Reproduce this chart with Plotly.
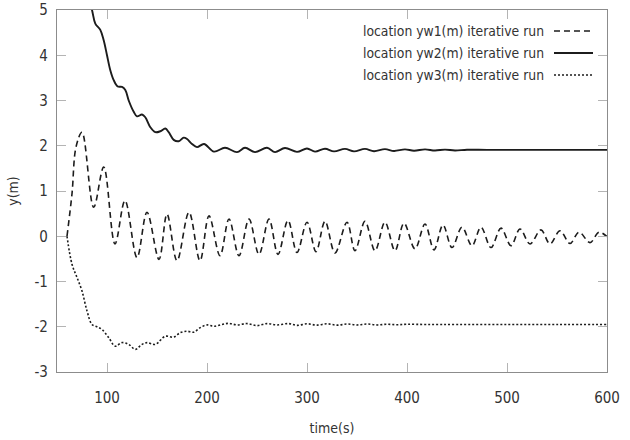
import plotly.graph_objects as go

# Time samples and displacement readings for each location (turning points of the motion)
t_yw1 = [60, 65, 69, 75, 86.7, 96.7, 108, 118, 130, 140, 152, 160, 170, 182, 193, 202,
         213, 222, 232, 242, 252, 262, 271, 281, 290, 300, 309, 318, 328, 340, 348, 358,
         368, 378, 388, 397, 408, 418, 427, 436, 445, 455, 465, 474, 484, 494, 504, 513,
         523, 534, 543, 553, 563, 572, 583, 592, 600]
y_yw1 = [0, 0.94, 1.97, 2.30, 0.64, 1.53, -0.17, 0.79, -0.47, 0.53, -0.51, 0.49, -0.54, 0.53, -0.54, 0.45,
         -0.43, 0.38, -0.43, 0.38, -0.40, 0.38, -0.40, 0.35, -0.36, 0.31, -0.34, 0.33, -0.37, 0.31, -0.32, 0.33,
         -0.32, 0.31, -0.32, 0.29, -0.28, 0.27, -0.30, 0.25, -0.25, 0.20, -0.21, 0.20, -0.25, 0.18, -0.21, 0.16,
         -0.17, 0.14, -0.17, 0.12, -0.16, 0.09, -0.14, 0.09, -0.01]

t_yw2 = [80, 85, 88.3, 93.3, 96.7, 100, 103.3, 106.7, 110.7, 115, 118.3, 121.7, 126.7, 130, 135,
         138.3, 143.3, 148.3, 153.3, 158.3, 161.7, 166.7, 171.7, 176.7, 180, 185, 190, 197, 207,
         218, 230, 238, 248, 260, 268, 278, 290, 300, 308, 318, 327, 338, 347, 358, 367, 378,
         387, 398, 407, 418, 428, 438, 448, 460, 480, 520, 560, 600]
y_yw2 = [5.40, 5.00, 4.70, 4.56, 4.33, 4.00, 3.67, 3.45, 3.31, 3.30, 3.23, 3.00, 2.75, 2.65, 2.69,
         2.63, 2.41, 2.30, 2.32, 2.38, 2.30, 2.13, 2.10, 2.18, 2.15, 2.04, 1.97, 2.04, 1.87,
         1.955, 1.86, 1.955, 1.86, 1.955, 1.86, 1.95, 1.865, 1.94, 1.87, 1.935, 1.875, 1.93, 1.875, 1.93, 1.88, 1.925,
         1.885, 1.92, 1.89, 1.92, 1.895, 1.915, 1.895, 1.912, 1.908, 1.908, 1.908, 1.908]

t_yw3 = [60, 65, 70, 75, 80, 85, 90, 95, 101.7, 108.3, 115, 121.7, 128.3, 135, 140, 148.3,
         158.3, 166.7, 173.3, 180, 186.7, 193.3, 200, 206.7, 215, 221.7, 230, 240, 250, 260,
         270, 281.7, 290, 300, 310, 320, 330, 340, 350, 360, 370, 380, 390, 400, 420, 450,
         500, 550, 600]
y_yw3 = [0, -0.62, -0.91, -1.21, -1.65, -1.95, -2.00, -2.06, -2.24, -2.43, -2.35, -2.39, -2.50, -2.39, -2.35, -2.39,
         -2.21, -2.23, -2.13, -2.10, -2.12, -2.02, -1.96, -1.99, -1.95, -1.925, -1.96, -1.93, -1.975, -1.93,
         -1.96, -1.93, -1.97, -1.935, -1.965, -1.935, -1.965, -1.94, -1.96, -1.94, -1.96, -1.945, -1.955, -1.945, -1.95, -1.95,
         -1.95, -1.95, -1.95]

legend_labels = ["location yw1(m) iterative run",
                 "location yw2(m) iterative run",
                 "location yw3(m) iterative run"]

x_ticks = [100, 200, 300, 400, 500, 600]
y_ticks = [-3, -2, -1, 0, 1, 2, 3, 4, 5]

FONT = "DejaVu Sans Condensed, DejaVu Sans, sans-serif"
TEXT = "#333333"
INK = "#1c1c1c"

series = [
    (t_yw1, y_yw1, dict(color=INK, width=1.6, dash="6px,4px")),
    (t_yw2, y_yw2, dict(color=INK, width=1.9, dash="solid")),
    (t_yw3, y_yw3, dict(color=INK, width=1.6, dash="2px,2px")),
]

fig = go.Figure()
for (tx, ty, ln), name in zip(series, legend_labels):
    fig.add_trace(go.Scatter(x=tx, y=ty, mode="lines", name=name,
                             line=dict(shape="spline", smoothing=1.0, **ln),
                             showlegend=False, cliponaxis=True))

# Legend drawn at top right: right-aligned label followed by its line sample
L, R, T, B = 57, 23, 10, 68
W, H = 630, 440
pw, ph = W - L - R, H - T - B
row_px = [31, 53, 75]
for (tx, ty, ln), name, py in zip(series, legend_labels, row_px):
    yp = (H - B - py) / ph
    fig.add_annotation(x=(546 - L) / pw, y=yp, xref="paper", yref="paper",
                       text=name, showarrow=False, xanchor="right", yanchor="middle",
                       font=dict(family=FONT, size=13.8, color=TEXT))
    fig.add_shape(type="line", xref="paper", yref="paper",
                  x0=(554 - L) / pw, x1=(593 - L) / pw, y0=yp, y1=yp,
                  line=dict(color=ln["color"], width=ln["width"], dash=ln["dash"]))

axis_common = dict(showgrid=False, zeroline=False, showline=True, linecolor="#8c8c8c",
                   linewidth=1.2, mirror="ticks", ticks="inside", ticklen=9,
                   tickcolor="#b4b4b4", tickwidth=1.2,
                   tickfont=dict(family=FONT, size=15, color=TEXT))

fig.update_xaxes(range=[50, 600], tickvals=x_ticks, ticktext=[str(v) for v in x_ticks],
                 title=dict(text="time(s)", standoff=17,
                            font=dict(family=FONT, size=14, color=TEXT)),
                 ticklabelstandoff=12, **axis_common)
fig.update_yaxes(range=[-3, 5], tickvals=y_ticks, ticktext=[str(v) for v in y_ticks],
                 title=dict(text="y(m)", standoff=12,
                            font=dict(family=FONT, size=14, color=TEXT)),
                 ticklabelstandoff=5, **axis_common)

fig.update_layout(width=W, height=H, margin=dict(l=L, r=R, t=T, b=B, autoexpand=False),
                  paper_bgcolor="white", plot_bgcolor="white", showlegend=False)

fig.write_html("out.html")
